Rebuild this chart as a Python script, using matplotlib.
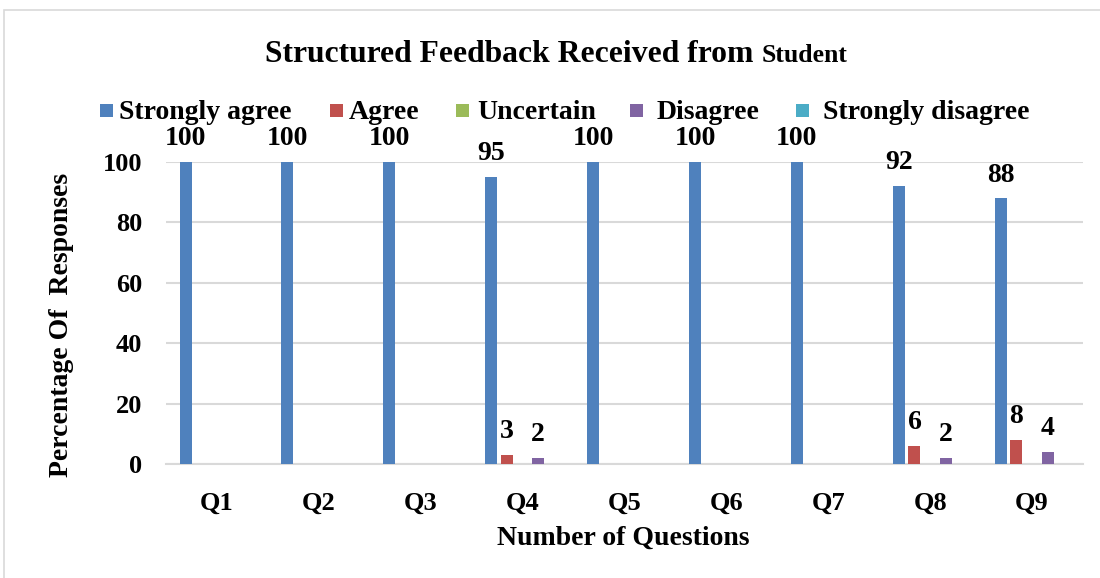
import matplotlib
matplotlib.use("Agg")
import matplotlib.pyplot as plt
from matplotlib.patches import Rectangle
import numpy as np

categories = ["Q1", "Q2", "Q3", "Q4", "Q5", "Q6", "Q7", "Q8", "Q9"]
series_names = ["Strongly agree", "Agree", "Uncertain", "Disagree", "Strongly disagree"]
strongly_agree = [100, 100, 100, 95, 100, 100, 100, 92, 88]
agree = [0, 0, 0, 3, 0, 0, 0, 6, 8]
uncertain = [0, 0, 0, 0, 0, 0, 0, 0, 0]
disagree = [0, 0, 0, 2, 0, 0, 0, 2, 4]
strongly_disagree = [0, 0, 0, 0, 0, 0, 0, 0, 0]
colors = ["#4F81BD", "#C0504D", "#9BBB59", "#8064A2", "#4BACC6"]
yticks = [0, 20, 40, 60, 80, 100]

SERIF = ['Liberation Serif', 'DejaVu Serif']
plt.rcParams['font.family'] = SERIF
plt.rcParams['font.weight'] = 'bold'

W, H = 1100, 578
fig = plt.figure(figsize=(11, 5.78), dpi=100)
fig.patch.set_facecolor("white")
# outer chart border
fig.patches.append(Rectangle((4/W, -0.1), 1.2, (H-10)/H + 0.1,
                             transform=fig.transFigure, fill=False,
                             edgecolor="#D9D9D9", linewidth=1.2))

ax = fig.add_axes([166/W, 1-464/H, (1083-166)/W, (464-162)/H])
data = [strongly_agree, agree, uncertain, disagree, strongly_disagree]
x = np.arange(len(categories))
step = 0.154
width = 0.118
for i, (vals, c, name) in enumerate(zip(data, colors, series_names)):
    pos = x + (i - 2) * step
    ax.bar(pos, vals, width, color=c, label=name, zorder=3)
    for p, v in zip(pos, vals):
        if v > 0:
            ax.annotate(f"{v}", (p, v), xytext=(0, 12), textcoords="offset points",
                        ha="center", va="baseline", fontsize=20, fontweight="bold",
                        annotation_clip=False)

ax.set_xlim(-0.5, len(categories) - 0.5)
ax.set_ylim(0, 100)
ax.set_yticks(yticks)
ax.set_xticks(x)
ax.set_xticklabels(categories)
ax.tick_params(axis="both", length=0, labelsize=19)
ax.tick_params(axis="y", pad=17)
ax.tick_params(axis="x", pad=20)
for lab in ax.get_xticklabels() + ax.get_yticklabels():
    lab.set_fontweight("bold")
ax.grid(axis="y", color="#D9D9D9", linewidth=1.5, zorder=0)
for s in ["top", "right", "left"]:
    ax.spines[s].set_visible(False)
ax.spines["bottom"].set_color("#D9D9D9")
ax.spines["bottom"].set_linewidth(1.5)

fig.text(623/W, 1-538/H, "Number of Questions", ha="center", va="center",
         fontsize=20, fontweight="bold")
fig.text(62/W, 1-(172+478)/2/H, "Percentage Of  Responses", rotation=90,
         ha="center", va="center", fontsize=20, fontweight="bold")

# title with two sizes
t1 = fig.text(265/W, 1-62/H, "Structured Feedback Received from ", ha="left",
              va="baseline", fontsize=22.8, fontweight="bold")
fig.canvas.draw()
bb = t1.get_window_extent()
fig.text(bb.x1/fig.bbox.width, 1-62/H, "Student", ha="left", va="baseline",
         fontsize=18.5, fontweight="bold")

# legend (drawn manually to match Excel layout)
marker_x = [99.5, 329.5, 455.5, 629.5, 795.5]
text_x = [119, 349, 477, 657, 823]
for mx, tx, c, name in zip(marker_x, text_x, colors, series_names):
    fig.patches.append(Rectangle((mx/W, 1-117/H), 13.5/W, 13.5/H,
                                 transform=fig.transFigure, facecolor=c,
                                 edgecolor="none"))
    fig.text(tx/W, 1-118.7/H, name, ha="left", va="baseline", fontsize=20,
             fontweight="bold")

fig.savefig("out.png", dpi=100, facecolor="white")
